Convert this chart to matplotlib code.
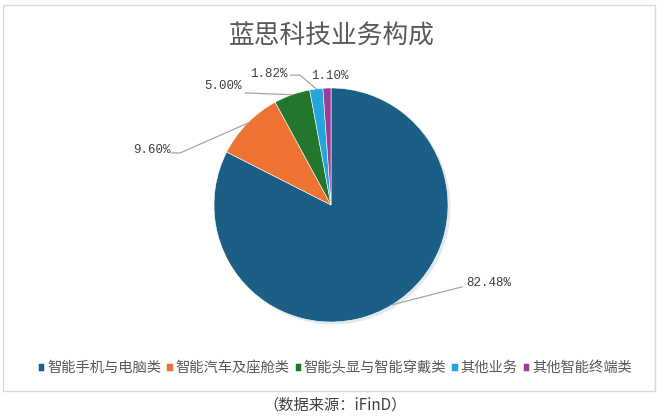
import numpy as np
import matplotlib
matplotlib.use("Agg")
import matplotlib.pyplot as plt
from matplotlib.patches import Rectangle

plt.rcParams['font.family'] = ['Noto Sans CJK SC', 'DejaVu Sans']

# data
categories = ['智能手机与电脑类', '智能汽车及座舱类', '智能头显与智能穿戴类', '其他业务', '其他智能终端类']
shares = [82.48, 9.60, 5.00, 1.82, 1.10]
pct_labels = ['82.48%', '9.60%', '5.00%', '1.82%', '1.10%']
colors = ['#1B5F86', '#EE7231', '#22762E', '#21A6DF', '#9E3B98']

# label layout (pie radius = 1)
label_pos = [(1.16, -0.67), (-1.375, 0.47), (-0.76, 1.02), (-0.37, 1.12), (-0.01, 1.10)]
label_ha = ['left', 'right', 'right', 'right', 'center']
elbows = [[(1.12, -0.70)],
          [(-1.29, 0.445), (-1.365, 0.445)],
          [(-0.735, 0.958)],
          [(-0.265, 1.11), (-0.345, 1.11)],
          None]

fig = plt.figure(figsize=(6.63, 4.18), dpi=100)

# outer frame
fig.patches.append(Rectangle((3 / 663, 1 - 391 / 418), 652 / 663, 386 / 418,
                             transform=fig.transFigure, fill=False,
                             edgecolor='#D9D9D9', linewidth=1.0))

cx, cy, r = 331, 205, 117
ax = fig.add_axes([(cx - r) / 663, 1 - (cy + r) / 418, 2 * r / 663, 2 * r / 418])
wedges, _ = ax.pie(shares, colors=colors, startangle=90, counterclock=False,
                   radius=1.0, wedgeprops=dict(linewidth=0.4, edgecolor='white'),
                   shadow=dict(ox=0.015, oy=-0.015, shade=0.1, alpha=0.12,
                               linewidth=0))
ax.set_xlim(-1, 1)
ax.set_ylim(-1, 1)
ax.set_aspect('auto')
ax.axis('off')

# percentage labels with leader lines
for w, txt, pos, ha, elb in zip(wedges, pct_labels, label_pos, label_ha, elbows):
    if elb is not None:
        ang = np.deg2rad((w.theta1 + w.theta2) / 2)
        pts = [(np.cos(ang), np.sin(ang))] + elb
        xs, ys = zip(*pts)
        ax.plot(xs, ys, color='#A6A6A6', linewidth=0.9, clip_on=False)
    ax.text(pos[0], pos[1], txt, ha=ha, va='center', fontsize=9,
            family=['Liberation Mono', 'DejaVu Sans Mono'], color='#404040',
            clip_on=False)

fig.text(0.5, 1 - 37 / 418, '蓝思科技业务构成', ha='center', va='center',
         fontsize=18.5, color='#595959')

fig.legend(wedges, categories, loc='center', bbox_to_anchor=(0.505, 1 - 368 / 418),
           ncol=5, frameon=False, fontsize=10.3, handlelength=0.45, handleheight=0.45,
           handletextpad=0.2, columnspacing=0.35, labelcolor='#595959')

fig.text(0.505, 1 - 405 / 418, '（数据来源：iFinD）', ha='center', va='center',
         fontsize=11, color='#404040')

fig.savefig('out.png', dpi=100)
